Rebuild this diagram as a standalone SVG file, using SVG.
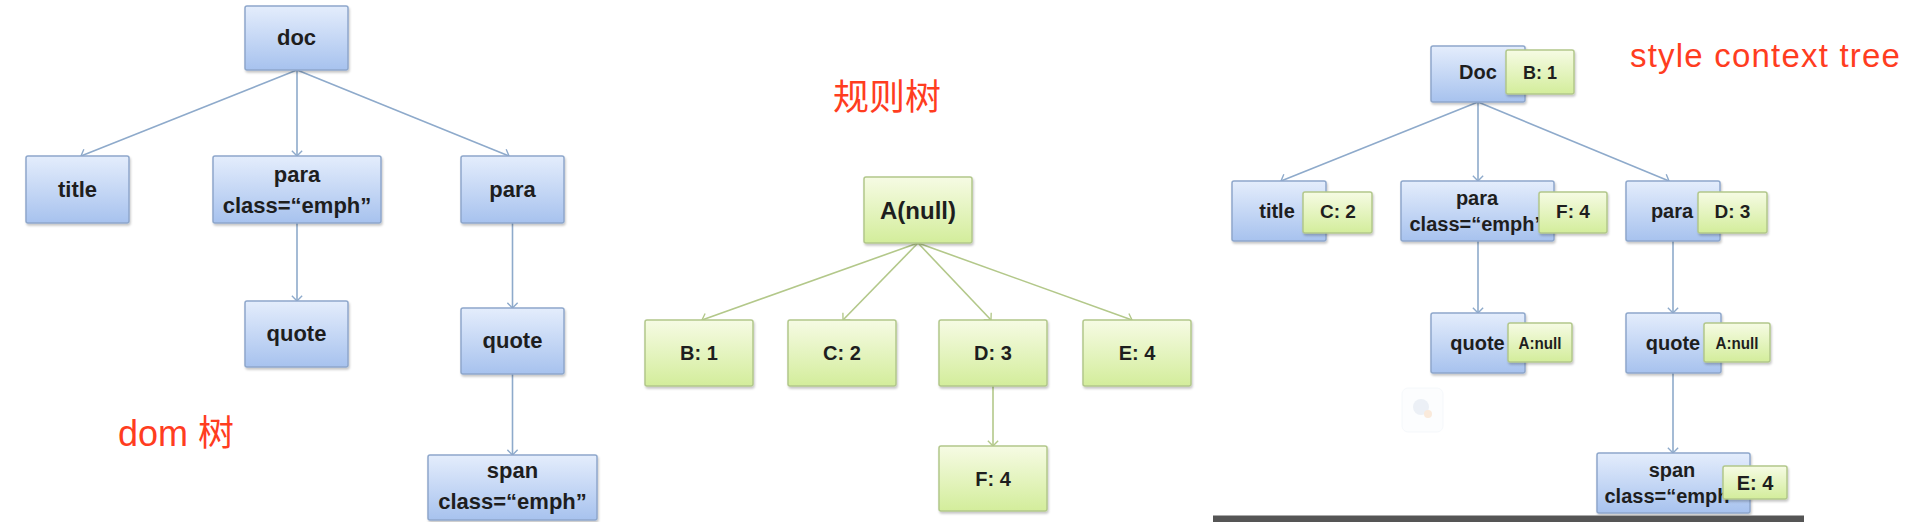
<svg xmlns="http://www.w3.org/2000/svg" width="1908" height="522" viewBox="0 0 1908 522">
  <defs>
    <linearGradient id="gBlue" x1="0" y1="0" x2="0" y2="1">
      <stop offset="0" stop-color="#e4edfc"/>
      <stop offset="1" stop-color="#a7c2ee"/>
    </linearGradient>
    <linearGradient id="gGreen" x1="0" y1="0" x2="0" y2="1">
      <stop offset="0" stop-color="#f6fbe4"/>
      <stop offset="1" stop-color="#d3ed9b"/>
    </linearGradient>
    <filter id="sh" x="-10%" y="-10%" width="130%" height="140%">
      <feDropShadow dx="1" dy="2" stdDeviation="1.2" flood-color="#000" flood-opacity="0.22"/>
    </filter>
    <marker id="arrB" viewBox="0 0 8 14" refX="7" refY="7" markerWidth="8" markerHeight="12" markerUnits="userSpaceOnUse" orient="auto">
      <path d="M1,1 L7,7 L1,13" fill="none" stroke="#8eaacb" stroke-width="1.6"/>
    </marker>
    <marker id="arrG" viewBox="0 0 8 14" refX="7" refY="7" markerWidth="8" markerHeight="12" markerUnits="userSpaceOnUse" orient="auto">
      <path d="M1,1 L7,7 L1,13" fill="none" stroke="#b3c88a" stroke-width="1.6"/>
    </marker>
  </defs>
  <style>
    .b { fill: url(#gBlue); stroke: #8ea7cb; stroke-width: 1.5; filter: url(#sh); }
    .g { fill: url(#gGreen); stroke: #b2c78b; stroke-width: 1.5; filter: url(#sh); }
    .t { font-family: "Liberation Sans", Arial, sans-serif; font-weight: bold; fill: #1e1e1e; text-anchor: middle; }
    .d { font-size: 22px; }
    .s { font-size: 20px; }
    .gl { font-size: 20px; }
    .red { font-family: "Liberation Sans", "Noto Sans CJK SC", sans-serif; fill: #ff3d1f; }
    .cb { fill: none; stroke: #8eaacb; stroke-width: 1.6; marker-end: url(#arrB); }
    .cg { fill: none; stroke: #b3c88a; stroke-width: 1.6; marker-end: url(#arrG); }
  </style>
  <rect width="1908" height="522" fill="#ffffff"/>

  <g id="connectors">
    <!-- DOM tree -->
    <line class="cb" x1="297" y1="70" x2="81" y2="156"/>
    <line class="cb" x1="297" y1="70" x2="297" y2="156"/>
    <line class="cb" x1="297" y1="70" x2="509" y2="156"/>
    <line class="cb" x1="297" y1="223" x2="297" y2="301"/>
    <line class="cb" x1="512.5" y1="223" x2="512.5" y2="308"/>
    <line class="cb" x1="512.5" y1="374" x2="512.5" y2="455"/>
    <!-- rule tree -->
    <line class="cg" x1="918" y1="243" x2="702" y2="320"/>
    <line class="cg" x1="918" y1="243" x2="843" y2="320"/>
    <line class="cg" x1="918" y1="243" x2="991" y2="320"/>
    <line class="cg" x1="918" y1="243" x2="1132" y2="320"/>
    <line class="cg" x1="993" y1="386" x2="993" y2="446"/>
    <!-- style context tree -->
    <line class="cb" x1="1478" y1="102" x2="1281" y2="181"/>
    <line class="cb" x1="1478" y1="102" x2="1478" y2="181"/>
    <line class="cb" x1="1478" y1="102" x2="1669" y2="181"/>
    <line class="cb" x1="1478" y1="241" x2="1478" y2="313"/>
    <line class="cb" x1="1673" y1="241" x2="1673" y2="313"/>
    <line class="cb" x1="1673" y1="373" x2="1673" y2="453"/>
  </g>

  <!-- DOM tree -->
  <g id="dom-doc"><rect class="b" x="245" y="6" width="103" height="64" rx="2"/><text class="t d" x="296.5" y="45">doc</text></g>
  <g id="dom-title"><rect class="b" x="26" y="156" width="103" height="67" rx="2"/><text class="t d" x="77.5" y="197">title</text></g>
  <g id="dom-para-emph"><rect class="b" x="213" y="156" width="168" height="67" rx="2"/><text class="t d" x="297" y="182">para</text><text class="t d" x="297" y="213">class=“emph”</text></g>
  <g id="dom-para"><rect class="b" x="461" y="156" width="103" height="67" rx="2"/><text class="t d" x="512.5" y="197">para</text></g>
  <g id="dom-quote1"><rect class="b" x="245" y="301" width="103" height="66" rx="2"/><text class="t d" x="296.5" y="341">quote</text></g>
  <g id="dom-quote2"><rect class="b" x="461" y="308" width="103" height="66" rx="2"/><text class="t d" x="512.5" y="348">quote</text></g>
  <g id="dom-span"><rect class="b" x="428" y="455" width="169" height="65" rx="2"/><text class="t d" x="512.5" y="478">span</text><text class="t d" x="512.5" y="509">class=“emph”</text></g>
  <text class="red" x="118" y="446" font-size="36">dom 树</text>

  <!-- rule tree -->
  <text class="red" x="833" y="110" font-size="36">规则树</text>
  <g id="rule-a"><rect class="g" x="864" y="177" width="108" height="66" rx="2"/><text class="t" x="918" y="219" font-size="24">A(null)</text></g>
  <g id="rule-b"><rect class="g" x="645" y="320" width="108" height="66" rx="2"/><text class="t gl" x="699" y="360">B: 1</text></g>
  <g id="rule-c"><rect class="g" x="788" y="320" width="108" height="66" rx="2"/><text class="t gl" x="842" y="360">C: 2</text></g>
  <g id="rule-d"><rect class="g" x="939" y="320" width="108" height="66" rx="2"/><text class="t gl" x="993" y="360">D: 3</text></g>
  <g id="rule-e"><rect class="g" x="1083" y="320" width="108" height="66" rx="2"/><text class="t gl" x="1137" y="360">E: 4</text></g>
  <g id="rule-f"><rect class="g" x="939" y="446" width="108" height="65" rx="2"/><text class="t gl" x="993" y="486">F: 4</text></g>

  <!-- style context tree -->
  <text class="red" x="1630" y="67" font-size="33" letter-spacing="1.2">style context tree</text>
  <g id="sct-doc"><rect class="b" x="1431" y="46" width="94" height="56" rx="2"/><text class="t s" x="1478" y="79">Doc</text>
    <rect class="g" x="1506" y="50" width="68" height="44" rx="2"/><text class="t" x="1540" y="79" font-size="18">B: 1</text></g>
  <g id="sct-title"><rect class="b" x="1232" y="181" width="94" height="60" rx="2"/><text class="t s" x="1277" y="218">title</text>
    <rect class="g" x="1303" y="192" width="69" height="41" rx="2"/><text class="t" x="1338" y="218" font-size="19">C: 2</text></g>
  <g id="sct-para-emph"><rect class="b" x="1401" y="181" width="153" height="60" rx="2"/><text class="t s" x="1477" y="205">para</text><text class="t s" x="1477" y="231">class=“emph”</text>
    <rect class="g" x="1539" y="192" width="68" height="41" rx="2"/><text class="t" x="1573" y="218" font-size="19">F: 4</text></g>
  <g id="sct-para"><rect class="b" x="1626" y="181" width="94" height="60" rx="2"/><text class="t s" x="1672" y="218">para</text>
    <rect class="g" x="1698" y="192" width="69" height="41" rx="2"/><text class="t" x="1732.5" y="218" font-size="19">D: 3</text></g>
  <g id="sct-quote1"><rect class="b" x="1431" y="313" width="94" height="60" rx="2"/><text class="t s" x="1477.5" y="350">quote</text>
    <rect class="g" x="1508" y="323" width="64" height="39" rx="2"/><text class="t" x="1540" y="349" font-size="17" textLength="43" lengthAdjust="spacingAndGlyphs">A:null</text></g>
  <g id="sct-quote2"><rect class="b" x="1626" y="313" width="95" height="60" rx="2"/><text class="t s" x="1673" y="350">quote</text>
    <rect class="g" x="1704" y="323" width="66" height="39" rx="2"/><text class="t" x="1737" y="349" font-size="17" textLength="43" lengthAdjust="spacingAndGlyphs">A:null</text></g>
  <g id="sct-span"><rect class="b" x="1597" y="453" width="153" height="60" rx="2"/><text class="t s" x="1672" y="477">span</text><text class="t s" x="1672" y="503">class=“emph”</text>
    <rect class="g" x="1723" y="466" width="64" height="33" rx="2"/><text class="t" x="1755" y="490" font-size="20">E: 4</text></g>

  <!-- faint icon artifact -->
  <g id="icon" opacity="0.35">
    <rect x="1402" y="388" width="41" height="44" rx="6" fill="#f7fafd" stroke="#e3ebf3" stroke-width="1"/>
    <circle cx="1421" cy="407" r="8" fill="#c9d6e6"/>
    <circle cx="1428" cy="414" r="4" fill="#f3c49a"/>
  </g>

  <!-- bottom rule -->
  <rect x="1213" y="516" width="591" height="6" fill="#555555"/>
  <rect x="1213" y="515" width="591" height="1" fill="#aaaaaa"/>
</svg>
